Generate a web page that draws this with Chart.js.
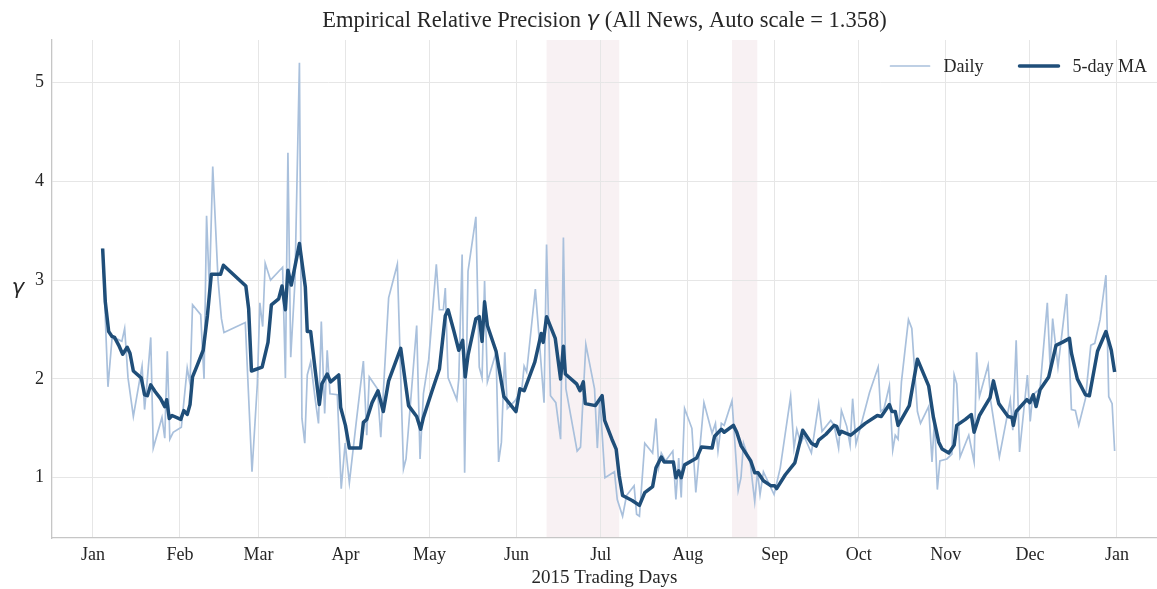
<!DOCTYPE html>
<html>
<head>
<meta charset="utf-8">
<script src="https://cdn.jsdelivr.net/npm/chart.js@4.4.1/dist/chart.umd.min.js"></script>
<style>
  html, body { margin: 0; padding: 0; background: #fff; }
  #wrap { width: 1157px; height: 589px; }
</style>
</head>
<body>
<div id="wrap"><canvas id="gammaChart"></canvas></div>
<script>
// x values: days since 1 Jan 2015
const dailyDay = [
  3.45, 5.35, 6.8, 8.9, 10.3, 11.3, 12.5, 14.4, 17.5, 18.4, 19.4, 20.6, 21.5, 24.6, 25.6, 26.5,
  27.4, 28.6, 31.5, 33.6, 34.6, 35.5, 38.4, 39.6, 40.5, 41.5, 42.7, 44.6, 45.8, 46.7, 54.3, 56.7,
  58.6, 59.5, 60.5, 61.4, 63.3, 67.6, 68.6, 69.5, 70.5, 72.0, 73.6, 74.5, 75.5, 76.4, 77.6, 79.2,
  80.4, 81.4, 82.6, 83.5, 84.5, 87.1, 88.5, 89.9, 91.4, 93.8, 96.4, 97.6, 98.5, 101.4, 102.6, 105.4,
  108.5, 110.7, 111.6, 115.4, 116.6, 117.8, 119.7, 122.4, 123.5, 124.9, 125.6, 126.6, 129.7, 130.4,
  131.6, 132.5, 133.7, 136.5, 137.7, 138.7, 139.6, 140.6, 143.7, 144.6, 145.6, 146.8, 147.7, 150.5,
  152.9, 153.7, 154.6, 157.7, 160.8, 161.7, 163.1, 165.0, 166.7, 167.7, 168.6, 172.6, 173.8, 175.7,
  178.8, 179.8, 180.7, 182.5, 185.9, 186.9, 188.8, 190.2, 192.9, 193.8, 194.8, 196.7, 199.5, 200.7,
  201.7, 202.6, 204.1, 206.7, 207.8, 208.8, 209.7, 210.9, 213.5, 214.9, 217.8, 220.7, 221.9, 222.8,
  224.0, 225.0, 227.8, 230.0, 231.0, 231.9, 234.3, 235.9, 236.9, 237.8, 239.0, 242.8, 245.0, 248.7,
  249.9, 250.9, 252.3, 253.5, 256.1, 258.7, 259.9, 263.0, 264.2, 265.8, 266.8, 268.7, 269.9, 270.8,
  272.0, 273.2, 276.8, 279.9, 280.8, 282.0, 283.9, 285.1, 286.0, 287.0, 288.2, 290.7, 291.9, 293.9,
  295.0, 297.9, 299.1, 300.0, 301.0, 301.9, 304.4, 306.2, 307.0, 307.9, 309.1, 312.2, 314.1, 315.0,
  316.0, 319.1, 320.0, 323.1, 327.0, 327.9, 329.1, 330.3, 333.1, 334.1, 335.0, 337.6, 340.2, 341.2,
  342.1, 344.0, 347.1, 348.8, 350.2, 351.4, 353.8, 355.7, 357.1, 359.0, 361.1, 362.1, 363.3, 364.2
];
const dailyGamma = [
  3.32, 1.92, 2.41, 2.40, 2.38, 2.51, 2.01, 1.62, 2.13, 1.69, 2.00, 2.42, 1.30, 1.61, 1.40, 2.28,
  1.39, 1.46, 1.51, 2.11, 1.95, 2.75, 2.65, 2.00, 3.65, 2.90, 4.15, 3.00, 2.61, 2.47, 2.57, 1.06,
  1.95, 2.77, 2.53, 3.17, 3.00, 3.13, 2.01, 4.29, 2.22, 2.98, 5.20, 1.60, 1.35, 2.04, 2.17, 1.80,
  1.55, 2.58, 1.65, 2.29, 1.85, 1.84, 0.89, 1.35, 0.95, 1.55, 2.18, 1.43, 2.02, 1.90, 1.41, 2.82,
  3.16, 1.09, 1.19, 2.54, 1.19, 1.85, 2.20, 3.16, 2.70, 2.70, 2.92, 2.01, 1.79, 2.00,
  3.26, 1.05, 3.09, 3.64, 2.12, 2.01, 2.99, 1.97, 2.27, 1.16, 1.36, 2.27, 1.70, 1.78,
  1.90, 2.13, 2.07, 2.91, 1.76, 3.36, 1.83, 1.76, 1.39, 3.43, 1.90, 1.27, 1.31, 2.35,
  1.90, 1.30, 1.81, 1.00, 1.06, 0.78, 0.61, 0.82, 0.92, 0.63, 0.61, 1.35, 1.25, 1.60,
  1.11, 1.25, 1.17, 1.27, 0.78, 1.20, 0.80, 1.70, 1.50, 0.85, 1.76, 1.45, 1.55, 1.27,
  1.55, 1.53, 1.78, 0.87, 1.00, 1.35, 1.15, 0.76, 1.07, 0.83, 1.06, 0.83, 1.10, 1.82,
  1.30, 1.49, 1.35, 1.42, 1.25, 1.75, 1.47, 1.58, 1.53, 1.30, 1.68, 1.52, 1.33, 1.80,
  1.34, 1.47, 1.86, 2.12, 1.67, 1.70, 1.93, 1.28, 1.43, 1.39, 1.97, 2.60, 2.51, 1.67,
  1.55, 1.72, 1.16, 1.60, 0.88, 1.17, 1.19, 1.24, 2.04, 1.95, 1.21, 1.43, 1.16, 2.27,
  1.82, 2.14, 1.78, 1.21, 1.79, 1.48, 2.39, 1.26, 2.04, 1.57, 1.84, 1.90, 2.77, 2.12,
  2.61, 2.12, 2.86, 1.69, 1.68, 1.53, 1.80, 2.34, 2.36, 2.60, 3.05, 1.82, 1.75, 1.27
];

const maDay = [
  3.45, 4.4, 5.6, 6.8, 7.7, 9.2, 10.6, 12.2, 13.2, 14.4, 17.2, 18.4, 19.4, 20.6, 22.2, 24.1, 25.6,
  26.3, 27.2, 28.2, 31.3, 32.4, 33.6, 34.6, 35.5, 37.2, 39.3, 40.8, 42.2, 45.5, 46.5, 54.5, 55.5,
  56.5, 60.3, 62.4, 63.6, 66.2, 67.4, 68.6, 69.5, 70.7, 73.6, 75.7, 76.4, 77.6, 79.3, 80.7, 81.6,
  83.5, 84.7, 87.6, 88.3, 90.0, 91.4, 95.4, 96.4, 97.6, 99.5, 101.6, 103.5, 105.4, 109.7, 112.5,
  115.4, 116.8, 117.8, 120.9, 123.5, 125.6, 126.6, 128.7, 130.4, 131.8, 132.7, 133.7, 136.5, 137.7,
  138.7, 139.6, 140.6, 143.7, 146.5, 150.8, 152.2, 153.7, 157.5, 159.8, 160.5, 161.7, 164.8, 166.7,
  167.7, 168.4, 172.4, 173.6, 174.8, 175.5, 179.1, 181.5, 182.4, 185.0, 186.5, 187.6, 188.8, 192.2,
  194.8, 196.7, 199.5, 200.7, 202.6, 203.6, 206.9, 207.8, 208.8, 209.7, 210.9, 215.2, 216.9, 220.7,
  221.6, 224.0, 225.0, 228.3, 229.5, 231.1, 234.5, 235.9, 237.1, 239.0, 241.6, 243.0, 243.7, 246.8,
  250.2, 253.0, 256.1, 257.8, 258.7, 261.3, 264.2, 265.1, 266.1, 266.8, 270.1, 271.8, 275.3, 279.6,
  281.0, 283.9, 284.8, 286.0, 287.0, 291.0, 293.9, 297.9, 299.6, 301.5, 302.7, 305.1, 307.0, 307.9,
  311.0, 313.1, 314.1, 316.0, 319.8, 321.0, 322.9, 326.2, 327.6, 328.1, 329.1, 332.9, 334.0, 335.2,
  336.2, 337.6, 340.7, 343.3, 345.5, 348.1, 348.8, 350.9, 353.8, 355.2, 358.1, 361.1, 363.0, 364.2
];
const maGamma = [
  3.32, 2.78, 2.48, 2.43, 2.42, 2.34, 2.25, 2.32, 2.26, 2.08, 2.01, 1.84, 1.83, 1.94, 1.87, 1.80, 1.72,
  1.79, 1.60, 1.63, 1.59, 1.68, 1.64, 1.74, 2.02, 2.14, 2.29, 2.64, 3.06, 3.06, 3.15, 2.94, 2.71,
  2.08, 2.12, 2.37, 2.75, 2.81, 2.94, 2.70, 3.10, 2.95, 3.37, 2.93, 2.48, 2.48, 2.07, 1.74, 1.95,
  2.05, 1.97, 2.04, 1.71, 1.53, 1.30, 1.30, 1.56, 1.59, 1.76, 1.88, 1.67, 1.98, 2.31, 1.73,
  1.62, 1.49, 1.61, 1.88, 2.10, 2.64, 2.70, 2.48, 2.29, 2.39, 2.02, 2.24, 2.61, 2.63,
  2.38, 2.78, 2.54, 2.28, 1.82, 1.67, 1.90, 1.88, 2.17, 2.46, 2.37, 2.63, 2.41, 2.00,
  2.33, 2.05, 1.95, 1.88, 1.97, 1.75, 1.73, 1.83, 1.58, 1.39, 1.29, 1.02, 0.82, 0.77,
  0.72, 0.85, 0.91, 1.10, 1.21, 1.16, 1.16, 1.00, 1.07, 1.00, 1.13, 1.20, 1.31, 1.30,
  1.42, 1.49, 1.46, 1.53, 1.46, 1.32, 1.17, 1.05, 1.05, 0.97, 0.92, 0.92, 0.89, 1.03,
  1.15, 1.48, 1.35, 1.32, 1.38, 1.44, 1.53, 1.52, 1.44, 1.47, 1.43, 1.47, 1.55, 1.63,
  1.62, 1.74, 1.67, 1.67, 1.53, 1.73, 2.20, 1.93, 1.61, 1.36, 1.29, 1.25, 1.33, 1.53,
  1.59, 1.64, 1.46, 1.63, 1.81, 1.98, 1.75, 1.62, 1.61, 1.53, 1.67, 1.79, 1.76, 1.84,
  1.72, 1.89, 2.02, 2.34, 2.37, 2.41, 2.26, 2.00, 1.84, 1.83, 2.28, 2.48, 2.29, 2.07
];

const monthStarts = [0, 31, 59, 90, 120, 151, 181, 212, 243, 273, 304, 334, 365];
const monthLabels = ['Jan', 'Feb', 'Mar', 'Apr', 'May', 'Jun', 'Jul', 'Aug', 'Sep', 'Oct', 'Nov', 'Dec', 'Jan'];
const gammaTicks = [1, 2, 3, 4, 5];
// shaded stress periods [start, end] in days
const stressWindows = [[161.7, 187.6], [227.8, 236.8]];

const SERIF = "'Liberation Serif', 'Times New Roman', serif";
const MATH = "'DejaVu Sans', sans-serif";
const TEXT = '#262626';

const toPoints = (xs, ys) => xs.map((x, i) => ({ x: x, y: ys[i] }));

// light red bands behind the grid
const bandPlugin = {
    id: 'bands',
    beforeDraw(chart) {
        const { ctx, chartArea, scales } = chart;
        ctx.save();
        ctx.fillStyle = 'rgba(200, 150, 160, 0.13)';
        stressWindows.forEach(([a, b]) => {
            const x0 = scales.x.getPixelForValue(a);
            const x1 = scales.x.getPixelForValue(b);
            ctx.fillRect(x0, chartArea.top, x1 - x0, chartArea.bottom - chartArea.top);
        });
        ctx.restore();
    }
};

// title and y label, with an oblique gamma
const labelPlugin = {
    id: 'labels',
    afterDraw(chart) {
        const { ctx, chartArea } = chart;
        ctx.save();
        ctx.fillStyle = TEXT;
        ctx.textBaseline = 'middle';
        const parts = [
            { t: 'Empirical Relative Precision ', f: `22.5px ${SERIF}` },
            { t: 'γ', f: `oblique 21px ${MATH}` },
            { t: ' (All News, Auto scale = 1.358)', f: `22.5px ${SERIF}` }
        ];
        let total = 0;
        parts.forEach(p => { ctx.font = p.f; p.w = ctx.measureText(p.t).width; total += p.w; });
        let x = (chartArea.left + chartArea.right) / 2 - total / 2;
        ctx.textAlign = 'left';
        parts.forEach(p => { ctx.font = p.f; ctx.fillText(p.t, x, 21); x += p.w; });

        ctx.font = `oblique 21px ${MATH}`;
        ctx.textAlign = 'center';
        ctx.fillText('γ', 18, (chartArea.top + chartArea.bottom) / 2);
        ctx.restore();
    }
};

// legend drawn inside the plot, top right
const legendPlugin = {
    id: 'insideLegend',
    afterDraw(chart) {
        const { ctx, chartArea } = chart;
        const sets = chart.data.datasets;
        const lineLen = 39, gapText = 14, gapItem = 36;
        ctx.save();
        ctx.font = `18px ${SERIF}`;
        const widths = sets.map(d => ctx.measureText(d.label).width);
        let total = 0;
        widths.forEach((w, i) => { total += lineLen + gapText + w + (i ? gapItem : 0); });
        let x = chartArea.right - 10 - total;
        const y = 66;
        sets.forEach((d, i) => {
            ctx.strokeStyle = d.borderColor;
            ctx.lineWidth = d.borderWidth;
            ctx.lineCap = 'round';
            ctx.beginPath();
            ctx.moveTo(x, y);
            ctx.lineTo(x + lineLen, y);
            ctx.stroke();
            x += lineLen + gapText;
            ctx.fillStyle = TEXT;
            ctx.textBaseline = 'middle';
            ctx.fillText(d.label, x, y + 1);
            x += widths[i] + gapItem;
        });
        ctx.restore();
    }
};

new Chart(document.getElementById('gammaChart'), {
    type: 'line',
    data: {
        datasets: [
            {
                label: 'Daily',
                data: toPoints(dailyDay, dailyGamma),
                borderColor: '#a9c0dc',
                borderWidth: 1.7,
                pointRadius: 0,
                tension: 0,
                order: 1
            },
            {
                label: '5-day MA',
                data: toPoints(maDay, maGamma),
                borderColor: '#1f4e79',
                borderWidth: 3.5,
                borderJoinStyle: 'round',
                pointRadius: 0,
                tension: 0,
                order: 0
            }
        ]
    },
    options: {
        responsive: true,
        maintainAspectRatio: false,
        animation: false,
        devicePixelRatio: 1,
        layout: { padding: { top: 40, left: 0, right: 0, bottom: 0 } },
        plugins: {
            legend: { display: false },
            title: { display: false },
            tooltip: { enabled: false }
        },
        scales: {
            x: {
                type: 'linear',
                min: -14.6,
                max: 379.3,
                afterBuildTicks: s => { s.ticks = monthStarts.map(v => ({ value: v })); },
                afterFit: s => { s.height = 51; },
                ticks: {
                    callback: (v, i) => monthLabels[i],
                    autoSkip: false,
                    maxRotation: 0,
                    padding: 6,
                    color: TEXT,
                    font: { family: SERIF, size: 18 }
                },
                grid: { color: '#e6e6e6', lineWidth: 1, drawTicks: false },
                border: { color: '#c6c6c6', width: 1.3 },
                title: {
                    display: true,
                    text: '2015 Trading Days',
                    color: TEXT,
                    font: { family: SERIF, size: 19 },
                    padding: { top: 0, bottom: 0 }
                }
            },
            y: {
                min: 0.39,
                max: 5.43,
                afterBuildTicks: s => { s.ticks = gammaTicks.map(v => ({ value: v })); },
                afterFit: s => { s.width = 52; },
                ticks: {
                    padding: 8,
                    color: TEXT,
                    font: { family: SERIF, size: 18 }
                },
                grid: { color: '#e6e6e6', lineWidth: 1, drawTicks: false },
                border: { color: '#c6c6c6', width: 1.3 }
            }
        }
    },
    plugins: [bandPlugin, labelPlugin, legendPlugin]
});
</script>
</body>
</html>
